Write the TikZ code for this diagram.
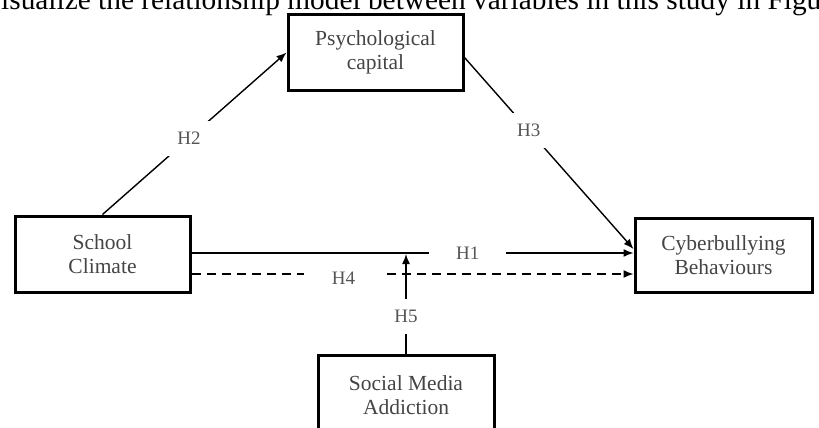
\documentclass[tikz,border=0pt]{standalone}
\usepackage{fontspec}
\setmainfont{Liberation Serif}
\usepackage{xcolor}
\usetikzlibrary{positioning,arrows.meta,calc}

\definecolor{boxtext}{HTML}{444444}
\definecolor{labeltext}{HTML}{555555}

\tikzset{
  varbox/.style={draw, line width=3pt, minimum width=175pt, minimum height=75pt,
    align=center, text=boxtext, font=\fontsize{21.5}{24}\selectfont},
  hyp/.style={fill=white, text=labeltext, font=\fontsize{19}{22}\selectfont, inner sep=11pt},
  path/.style={line width=1.4pt, -{Latex[length=10pt,width=8pt]}},
}

\begin{document}
\begin{tikzpicture}[x=1pt,y=-1pt]

    % Frame of the picture
    \useasboundingbox (0,0) rectangle (819,428);
    \clip (0,0) rectangle (819,428);

    % Line of text above the figure (cut off)
    \node[anchor=base west, inner sep=0pt] (caption) at (1,10)
      {\resizebox{820pt}{!}{isualize the relationship model between variables in this study in Figu}};

    % Variables
    \node[varbox] (psych) at (375.5,52.5) {Psychological\\capital};
    \node[varbox, minimum height=76pt] (school) at (102.5,254) {School\\Climate};
    \node[varbox, minimum width=177pt, minimum height=74pt] (cyber) at (723.5,255) {Cyberbullying\\Behaviours};
    \node[varbox, minimum width=176pt, minimum height=80pt] (social) at (406,395) {Social Media\\Addiction};

    % Paths H1 - H5
    \draw[path] (school.north) -- (psych.west) node[hyp, pos=0.47] {H2};
    \draw[path] ([yshift=-5pt]psych.east) -- ([yshift=6pt]cyber.west) node[hyp, pos=0.38] {H3};
    \draw[path] ([yshift=1pt]school.east) -- ([yshift=1pt]school.east -| cyber.west)
      node[hyp, pos=0.625, inner xsep=27pt, inner ysep=5pt] {H1};
    \draw[path, dash pattern=on 9pt off 6pt] ([yshift=-20pt]school.east) -- ([yshift=-20pt]school.east -| cyber.west)
      node[hyp, pos=0.344, inner xsep=28pt, inner ysep=5pt, yshift=-4pt] {H4};
    \draw[path] (social.north) -- (social.north |- school.east) node[hyp, pos=0.37] {H5};

\end{tikzpicture}
\end{document}
